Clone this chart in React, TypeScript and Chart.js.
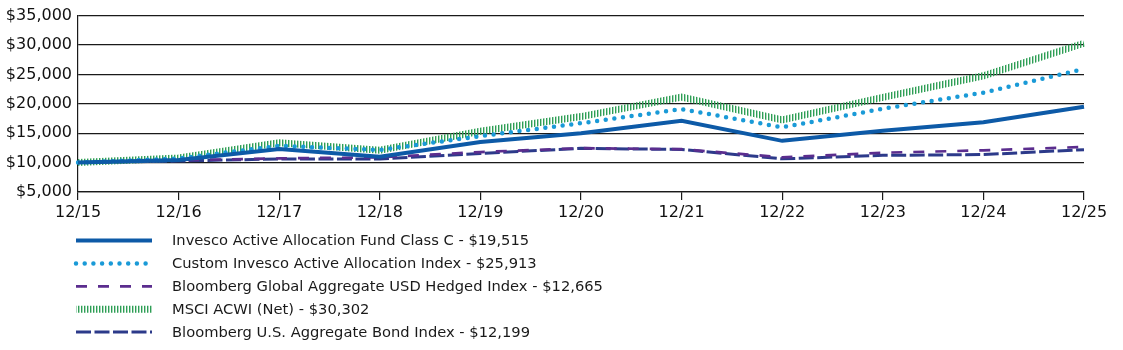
import { useEffect, useRef } from 'react';
import { Chart, registerables } from 'chart.js';

Chart.register(...registerables);

const categories = ['12/15', '12/16', '12/17', '12/18', '12/19', '12/20', '12/21', '12/22', '12/23', '12/24', '12/25'];

const fundName = 'Invesco Active Allocation Fund Class C';
const fundValues = [10000, 10450, 12300, 11000, 13500, 15000, 17100, 13700, 15400, 16850, 19515];

const customName = 'Custom Invesco Active Allocation Index';
const customValues = [10000, 10700, 12850, 12150, 14500, 16700, 19100, 16000, 19150, 21900, 25913];

const globalAggName = 'Bloomberg Global Aggregate USD Hedged Index';
const globalAggValues = [10000, 10395, 10711, 10900, 11796, 12454, 12281, 10903, 11683, 12080, 12665];

const msciName = 'MSCI ACWI (Net)';
const msciValues = [10000, 10786, 13371, 12113, 15335, 17827, 21132, 17252, 21082, 24769, 30302];

const usAggName = 'Bloomberg U.S. Aggregate Bond Index';
const usAggValues = [10000, 10265, 10628, 10629, 11556, 12424, 12233, 10641, 11229, 11369, 12199];

const yTicks = [5000, 10000, 15000, 20000, 25000, 30000, 35000];

const fmt = (v: number) => '$' + v.toLocaleString('en-US');
const label = (name: string, vals: number[]) => `${name} - ${fmt(vals[vals.length - 1])}`;

function makeHatch(): CanvasPattern | string {
  const c = document.createElement('canvas');
  c.width = 3;
  c.height = 1;
  const x = c.getContext('2d');
  if (!x) return '#2e9e55';
  x.fillStyle = 'rgba(46,158,85,1)';
  x.fillRect(0, 0, 1, 1);
  x.fillStyle = 'rgba(46,158,85,0.4)';
  x.fillRect(1, 0, 1, 1);
  const p = x.createPattern(c, 'repeat');
  return p || '#2e9e55';
}

const legendPlugin = {
  id: 'customLegend',
  afterDraw(chart: any) {
    const ctx = chart.ctx;
    const ds = chart.data.datasets;
    ds.forEach((d: any, i: number) => {
      const y = 240.5 + i * 22.9;
      ctx.save();
      ctx.strokeStyle = d.borderColor;
      ctx.lineWidth = d.borderWidth;
      ctx.setLineDash(d.borderDash || []);
      ctx.lineCap = d.borderCapStyle || 'butt';
      ctx.beginPath();
      ctx.moveTo(76, y);
      ctx.lineTo(152, y);
      ctx.stroke();
      ctx.setLineDash([]);
      ctx.fillStyle = '#1a1a1a';
      ctx.font = '14.7px "DejaVu Sans"';
      ctx.textBaseline = 'middle';
      ctx.textAlign = 'left';
      ctx.fillText(d.label, 172, y + 1);
      ctx.restore();
    });
  },
};

export default function App() {
  const ref = useRef<HTMLCanvasElement>(null);
  useEffect(() => {
    document.body.style.margin = '0';
    const hatch = makeHatch();
    const chart = new Chart(ref.current as HTMLCanvasElement, {
      type: 'line',
      data: {
        labels: categories,
        datasets: [
          {
            label: label(fundName, fundValues),
            data: fundValues,
            borderColor: '#0d5aa7',
            borderWidth: 4,
            borderCapStyle: 'butt',
            pointRadius: 0,
          },
          {
            label: label(customName, customValues),
            data: customValues,
            borderColor: '#1a9ad7',
            borderWidth: 4.5,
            borderDash: [0, 8.7],
            borderCapStyle: 'round',
            pointRadius: 0,
          },
          {
            label: label(globalAggName, globalAggValues),
            data: globalAggValues,
            borderColor: '#5b2d8e',
            borderWidth: 2.7,
            borderDash: [11, 11],
            borderCapStyle: 'butt',
            pointRadius: 0,
          },
          {
            label: label(msciName, msciValues),
            data: msciValues,
            borderColor: hatch,
            borderWidth: 7,
            borderCapStyle: 'butt',
            pointRadius: 0,
          },
          {
            label: label(usAggName, usAggValues),
            data: usAggValues,
            borderColor: '#2c3a8a',
            borderWidth: 3,
            borderDash: [15, 3.5],
            borderCapStyle: 'butt',
            pointRadius: 0,
          },
        ] as any,
      },
      options: {
        animation: false,
        responsive: true,
        maintainAspectRatio: false,
        layout: { padding: { left: 0, right: 39, top: 13, bottom: 0 } },
        plugins: { legend: { display: false }, tooltip: { enabled: false } },
        elements: { line: { tension: 0 } },
        scales: {
          x: {
            type: 'category',
            offset: false,
            grid: { drawOnChartArea: false, drawTicks: true, tickLength: 8, color: '#1a1a1a', lineWidth: 1.2 },
            border: { display: true, color: '#1a1a1a', width: 1.2 },
            ticks: { color: '#111', font: { family: 'DejaVu Sans', size: 16 }, padding: 3, maxRotation: 0, autoSkip: false },
            afterFit: (s: any) => { s.height = 158; },
          },
          y: {
            min: 5000,
            max: 35000,
            afterBuildTicks: (s: any) => { s.ticks = yTicks.map((v) => ({ value: v })); },
            grid: { drawTicks: false, color: '#1a1a1a', lineWidth: 1.2 },
            border: { display: true, color: '#1a1a1a', width: 1.2 },
            ticks: { color: '#111', font: { family: 'DejaVu Sans', size: 16 }, padding: 6, callback: (v: any) => fmt(Number(v)) },
            afterFit: (s: any) => { s.width = 78; },
          },
        },
      },
      plugins: [legendPlugin],
    } as any);
    return () => chart.destroy();
  }, []);
  return (
    <div style={{ width: 1123, height: 350, position: 'relative' }}>
      <canvas ref={ref} />
    </div>
  );
}
